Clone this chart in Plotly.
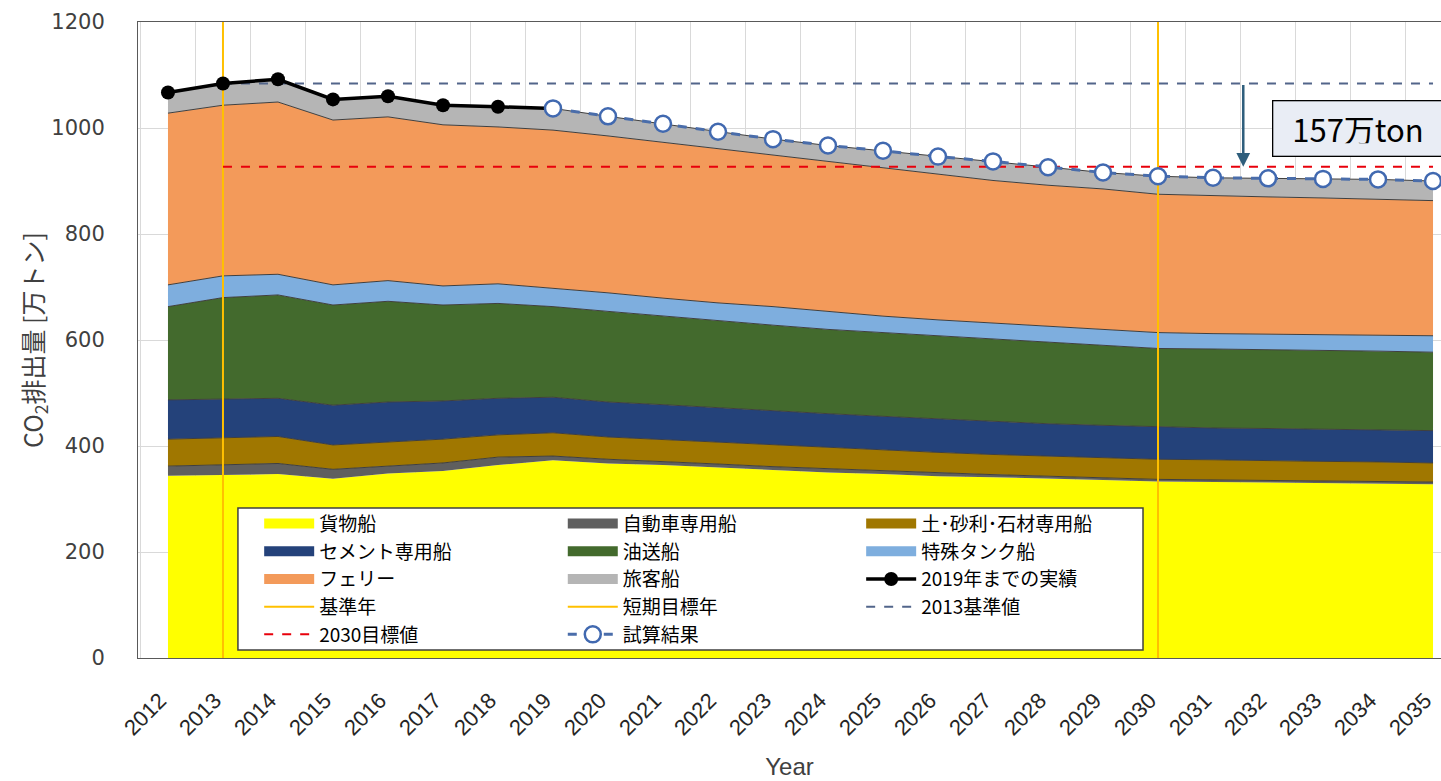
import plotly.graph_objects as go

# ---- data (万トン) ----
years = list(range(2012, 2036))

cargo = [344, 345, 347, 338, 348, 353, 364, 373, 367, 364, 359, 354, 350, 347, 343, 341, 339, 336, 333, 332, 331, 330, 329, 328]
car_carrier = [18, 19, 20, 18, 14, 15, 15, 8, 8, 7, 7, 7, 7, 6, 6, 5, 4, 4, 4, 4, 4, 4, 4, 4]
gravel = [51, 52, 51, 46, 46, 45, 42, 44, 42, 41, 41, 41, 40, 40, 39, 38, 38, 38, 38, 38, 37, 37, 37, 36]
cement = [74, 73, 72, 75, 75, 72, 69, 67, 66, 66, 65, 65, 64, 63, 63, 62, 61, 61, 61, 60, 61, 61, 61, 61]
tanker = [176, 191, 195, 189, 190, 181, 179, 171, 171, 167, 164, 161, 159, 158, 157, 156, 154, 151, 148, 149, 149, 148, 148, 148]
special_tank = [41, 41, 39, 38, 39, 36, 37, 35, 35, 34, 34, 35, 34, 31, 30, 30, 31, 30, 30, 29, 29, 30, 30, 31]
ferry = [324, 322, 325, 311, 309, 304, 296, 298, 296, 294, 291, 286, 283, 281, 276, 269, 265, 265, 261, 260, 259, 258, 257, 255]
passenger = [39, 41, 43, 39, 39, 37, 38, 41, 37, 35, 32, 30, 30, 31, 32, 36, 34, 31, 34, 34, 35, 36, 37, 37]

actual_years = list(range(2012, 2020))
actual_total = [1067, 1084, 1092, 1054, 1060, 1043, 1040, 1037]

estimate_years = list(range(2019, 2036))
estimate_total = [1037, 1022, 1008, 993, 979, 967, 957, 946, 937, 926, 916, 909, 906, 905, 904, 903, 900]

base_year = 2013
short_target_year = 2030
base_2013 = 1084
target_2030 = 927
reduction = base_2013 - target_2030

JP = "Noto Sans CJK JP"
NARROW = "Liberation Sans Narrow, Liberation Sans"
OUTLINE = "#3f3f3f"

fig = go.Figure()

# stacked sectors: (name, values, colour, outline width, legend column)
sectors = [
    ("貨物船", cargo, "#FFFF00", 0, "legend"),
    ("自動車専用船", car_carrier, "#5F5F5F", 1, "legend2"),
    ("土･砂利･石材専用船", gravel, "#A07700", 1, "legend3"),
    ("セメント専用船", cement, "#24427A", 1, "legend"),
    ("油送船", tanker, "#436A2D", 1, "legend2"),
    ("特殊タンク船", special_tank, "#7EAEDE", 1, "legend3"),
    ("フェリー", ferry, "#F39A5A", 1, "legend"),
    ("旅客船", passenger, "#B5B5B5", 1, "legend2"),
]
for rank, (name, vals, color, lw, leg) in enumerate(sectors):
    fig.add_trace(go.Scatter(
        x=years, y=vals, name=name, stackgroup="ships", mode="lines",
        line=dict(color=OUTLINE if lw else color, width=lw),
        fillcolor=color, showlegend=False, hoverinfo="skip",
    ))
    # legend swatch for the sector
    fig.add_trace(go.Scatter(
        x=[None], y=[None], mode="lines", name=name,
        line=dict(color=color, width=13),
        legend=leg, legendrank=rank + 1, hoverinfo="skip",
    ))

# reference years
fig.add_trace(go.Scatter(
    x=[base_year, base_year], y=[0, 1200], mode="lines", name="基準年",
    line=dict(color="#FFC000", width=2), legend="legend", legendrank=20,
))
fig.add_trace(go.Scatter(
    x=[short_target_year, short_target_year], y=[0, 1200], mode="lines", name="短期目標年",
    line=dict(color="#FFC000", width=2), legend="legend2", legendrank=20,
))

# reference levels
fig.add_trace(go.Scatter(
    x=[base_year, years[-1]], y=[base_2013, base_2013], mode="lines", name="2013基準値",
    line=dict(color="#52658A", width=2, dash="dash"), legend="legend3", legendrank=40,
))
fig.add_trace(go.Scatter(
    x=[base_year, years[-1]], y=[target_2030, target_2030], mode="lines", name="2030目標値",
    line=dict(color="#E8000B", width=2, dash="dash"), legend="legend", legendrank=40,
))

# totals
fig.add_trace(go.Scatter(
    x=actual_years, y=actual_total, mode="lines+markers", name="2019年までの実績",
    line=dict(color="#000000", width=3.5),
    marker=dict(color="#000000", size=14),
    legend="legend3", legendrank=30,
))
fig.add_trace(go.Scatter(
    x=estimate_years, y=estimate_total, mode="lines+markers", name="試算結果",
    line=dict(color="#4A6DAA", width=3, dash="dash"),
    marker=dict(color="#FFFFFF", size=16, line=dict(color="#4169B0", width=2.5)),
    legend="legend2", legendrank=40,
))

# reduction arrow and label
arrow_x = 2031.55
fig.add_annotation(
    x=arrow_x, y=target_2030, ax=arrow_x, ay=base_2013,
    xref="x", yref="y", axref="x", ayref="y",
    text="", showarrow=True, arrowhead=2, arrowsize=1.1, arrowwidth=2.5,
    arrowcolor="#2E5E7C",
)
fig.add_annotation(
    x=2033.95, y=999, xref="x", yref="y",
    text="\u00a0" + f"{reduction}万ton", showarrow=False,
    font=dict(family=JP, size=31, color="#000000"),
    bgcolor="#E9EDF5", bordercolor="#000000", borderwidth=1.3,
    borderpad=12, width=180, height=30, align="left",
    xanchor="center", yanchor="middle",
)

# white backing and frame for the three-column legend
fig.add_shape(
    type="rect", xref="paper", yref="paper",
    x0=0.0767, x1=0.7713, y0=0.0126, y1=0.2358,
    fillcolor="#FFFFFF", line=dict(color="#404040", width=1.5), layer="above",
)

legend_common = dict(
    font=dict(family=JP, size=19, color="#000000"),
    bgcolor="rgba(0,0,0,0)", borderwidth=0, itemwidth=50,
    traceorder="normal", yanchor="top", y=0.241, xanchor="left",
    tracegroupgap=0, itemclick=False, itemdoubleclick=False,
)

fig.update_layout(
    width=1441, height=781,
    margin=dict(l=138, r=0, t=22, b=123, autoexpand=False),
    paper_bgcolor="#FFFFFF", plot_bgcolor="#FFFFFF",
    showlegend=True, hovermode=False,
    legend=dict(x=0.093, **legend_common),
    legend2=dict(x=0.326, **legend_common),
    legend3=dict(x=0.555, **legend_common),
    xaxis=dict(
        range=[2011.455, 2035.145], automargin=False,
        tickmode="array", tickvals=years, ticktext=[str(y) for y in years],
        tickangle=-45, showgrid=False,
        tickfont=dict(family=NARROW, size=22, color="#262626"),
        ticks="", ticklabelstandoff=20, ticklabelshift=-8, ticklabeloverflow="allow",
        showline=True, linecolor="#595959", linewidth=1, mirror=True,
        minor=dict(tick0=2011.5, dtick=1, showgrid=True, gridcolor="#D9D9D9", gridwidth=1, ticks=""),
        title=dict(text="Year", font=dict(family=NARROW, size=24, color="#404040"), standoff=18),
        zeroline=False,
    ),
    yaxis=dict(
        range=[0, 1200], tickvals=[0, 200, 400, 600, 800, 1000, 1200], automargin=False,
        showgrid=True, gridcolor="#D9D9D9", gridwidth=1,
        tickfont=dict(family="DejaVu Sans", size=21, color="#404040"),
        ticks="", ticklabelstandoff=28,
        showline=True, linecolor="#595959", linewidth=1, mirror=True,
        title=dict(text="CO<sub>2</sub>排出量 [万トン]", font=dict(family=JP, size=25, color="#404040"), standoff=0),
        zeroline=False,
    ),
)

fig.write_html("out.html")
